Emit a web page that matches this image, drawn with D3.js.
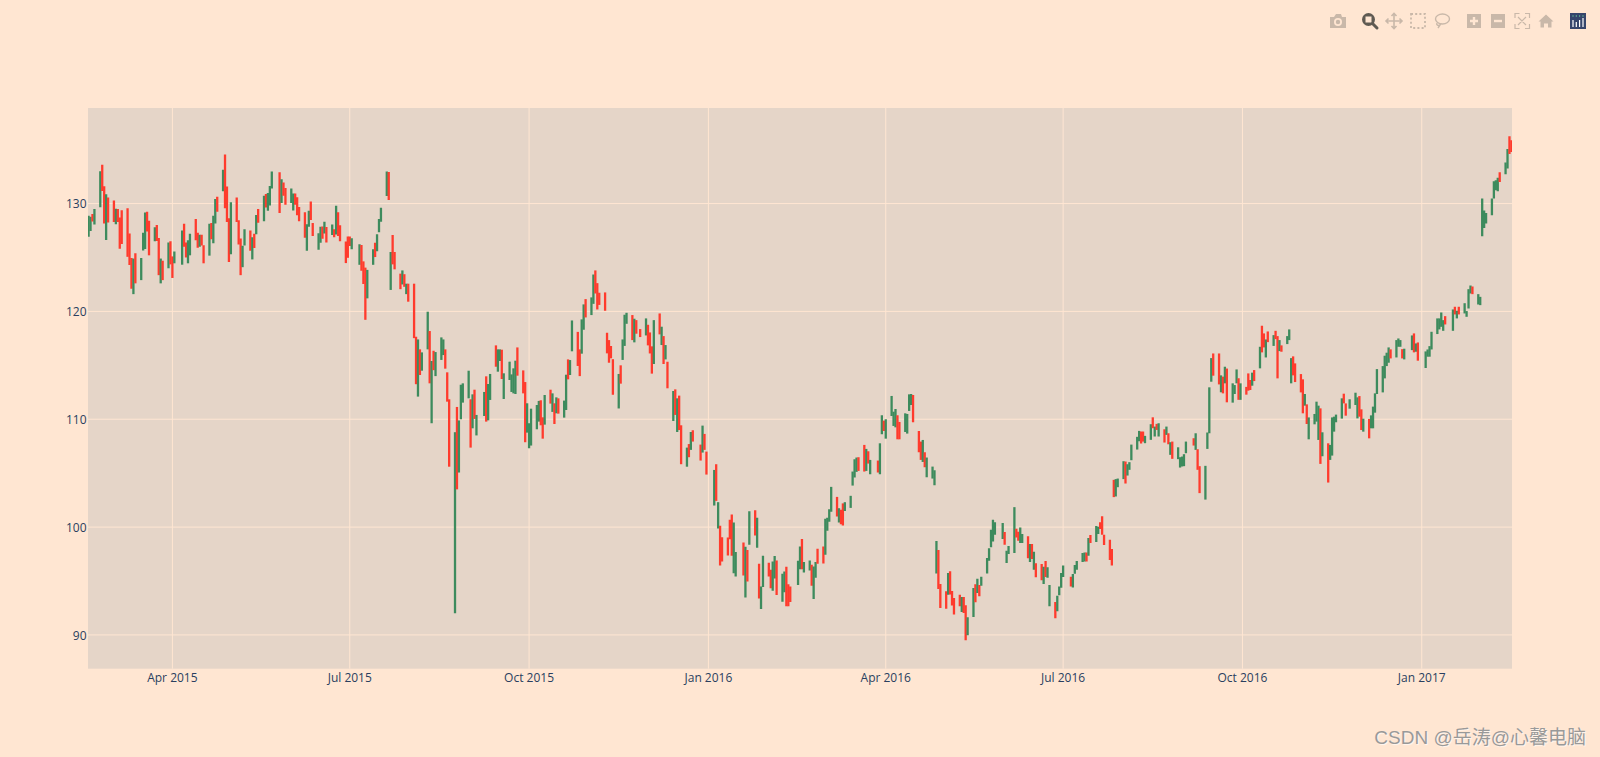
<!DOCTYPE html>
<html>
<head>
<meta charset="utf-8">
<script src="https://cdn.jsdelivr.net/npm/d3@7"></script>
<style>
  html, body { margin: 0; padding: 0; background: #ffe6d2; overflow: hidden; }
  svg { display: block; }
</style>
</head>
<body>
<svg id="chart"></svg>
<script>
// one row per month in every array, so the rows line up
const dates = [
  '2015-02-17','2015-02-18','2015-02-19','2015-02-20','2015-02-23','2015-02-24','2015-02-25','2015-02-26','2015-02-27',
  '2015-03-02','2015-03-03','2015-03-04','2015-03-05','2015-03-06','2015-03-09','2015-03-10','2015-03-11','2015-03-12','2015-03-13','2015-03-16','2015-03-17','2015-03-18','2015-03-19','2015-03-20','2015-03-23','2015-03-24','2015-03-25','2015-03-26','2015-03-27','2015-03-30','2015-03-31',
  '2015-04-01','2015-04-02','2015-04-06','2015-04-07','2015-04-08','2015-04-09','2015-04-10','2015-04-13','2015-04-14','2015-04-15','2015-04-16','2015-04-17','2015-04-20','2015-04-21','2015-04-22','2015-04-23','2015-04-24','2015-04-27','2015-04-28','2015-04-29','2015-04-30',
  '2015-05-01','2015-05-04','2015-05-05','2015-05-06','2015-05-07','2015-05-08','2015-05-11','2015-05-12','2015-05-13','2015-05-14','2015-05-15','2015-05-18','2015-05-19','2015-05-20','2015-05-21','2015-05-22','2015-05-26','2015-05-27','2015-05-28','2015-05-29',
  '2015-06-01','2015-06-02','2015-06-03','2015-06-04','2015-06-05','2015-06-08','2015-06-09','2015-06-10','2015-06-11','2015-06-12','2015-06-15','2015-06-16','2015-06-17','2015-06-18','2015-06-19','2015-06-22','2015-06-23','2015-06-24','2015-06-25','2015-06-26','2015-06-29','2015-06-30',
  '2015-07-01','2015-07-02','2015-07-06','2015-07-07','2015-07-08','2015-07-09','2015-07-10','2015-07-13','2015-07-14','2015-07-15','2015-07-16','2015-07-17','2015-07-20','2015-07-21','2015-07-22','2015-07-23','2015-07-24','2015-07-27','2015-07-28','2015-07-29','2015-07-30','2015-07-31',
  '2015-08-03','2015-08-04','2015-08-05','2015-08-06','2015-08-07','2015-08-10','2015-08-11','2015-08-12','2015-08-13','2015-08-14','2015-08-17','2015-08-18','2015-08-19','2015-08-20','2015-08-21','2015-08-24','2015-08-25','2015-08-26','2015-08-27','2015-08-28','2015-08-31',
  '2015-09-01','2015-09-02','2015-09-03','2015-09-04','2015-09-08','2015-09-09','2015-09-10','2015-09-11','2015-09-14','2015-09-15','2015-09-16','2015-09-17','2015-09-18','2015-09-21','2015-09-22','2015-09-23','2015-09-24','2015-09-25','2015-09-28','2015-09-29','2015-09-30',
  '2015-10-01','2015-10-02','2015-10-05','2015-10-06','2015-10-07','2015-10-08','2015-10-09','2015-10-12','2015-10-13','2015-10-14','2015-10-15','2015-10-16','2015-10-19','2015-10-20','2015-10-21','2015-10-22','2015-10-23','2015-10-26','2015-10-27','2015-10-28','2015-10-29','2015-10-30',
  '2015-11-02','2015-11-03','2015-11-04','2015-11-05','2015-11-06','2015-11-09','2015-11-10','2015-11-11','2015-11-12','2015-11-13','2015-11-16','2015-11-17','2015-11-18','2015-11-19','2015-11-20','2015-11-23','2015-11-24','2015-11-25','2015-11-27','2015-11-30',
  '2015-12-01','2015-12-02','2015-12-03','2015-12-04','2015-12-07','2015-12-08','2015-12-09','2015-12-10','2015-12-11','2015-12-14','2015-12-15','2015-12-16','2015-12-17','2015-12-18','2015-12-21','2015-12-22','2015-12-23','2015-12-24','2015-12-28','2015-12-29','2015-12-30','2015-12-31',
  '2016-01-04','2016-01-05','2016-01-06','2016-01-07','2016-01-08','2016-01-11','2016-01-12','2016-01-13','2016-01-14','2016-01-15','2016-01-19','2016-01-20','2016-01-21','2016-01-22','2016-01-25','2016-01-26','2016-01-27','2016-01-28','2016-01-29',
  '2016-02-01','2016-02-02','2016-02-03','2016-02-04','2016-02-05','2016-02-08','2016-02-09','2016-02-10','2016-02-11','2016-02-12','2016-02-16','2016-02-17','2016-02-18','2016-02-19','2016-02-22','2016-02-23','2016-02-24','2016-02-25','2016-02-26','2016-02-29',
  '2016-03-01','2016-03-02','2016-03-03','2016-03-04','2016-03-07','2016-03-08','2016-03-09','2016-03-10','2016-03-11','2016-03-14','2016-03-15','2016-03-16','2016-03-17','2016-03-18','2016-03-21','2016-03-22','2016-03-23','2016-03-24','2016-03-28','2016-03-29','2016-03-30','2016-03-31',
  '2016-04-01','2016-04-04','2016-04-05','2016-04-06','2016-04-07','2016-04-08','2016-04-11','2016-04-12','2016-04-13','2016-04-14','2016-04-15','2016-04-18','2016-04-19','2016-04-20','2016-04-21','2016-04-22','2016-04-25','2016-04-26','2016-04-27','2016-04-28','2016-04-29',
  '2016-05-02','2016-05-03','2016-05-04','2016-05-05','2016-05-06','2016-05-09','2016-05-10','2016-05-11','2016-05-12','2016-05-13','2016-05-16','2016-05-17','2016-05-18','2016-05-19','2016-05-20','2016-05-23','2016-05-24','2016-05-25','2016-05-26','2016-05-27','2016-05-31',
  '2016-06-01','2016-06-02','2016-06-03','2016-06-06','2016-06-07','2016-06-08','2016-06-09','2016-06-10','2016-06-13','2016-06-14','2016-06-15','2016-06-16','2016-06-17','2016-06-20','2016-06-21','2016-06-22','2016-06-23','2016-06-24','2016-06-27','2016-06-28','2016-06-29','2016-06-30',
  '2016-07-01','2016-07-05','2016-07-06','2016-07-07','2016-07-08','2016-07-11','2016-07-12','2016-07-13','2016-07-14','2016-07-15','2016-07-18','2016-07-19','2016-07-20','2016-07-21','2016-07-22','2016-07-25','2016-07-26','2016-07-27','2016-07-28','2016-07-29',
  '2016-08-01','2016-08-02','2016-08-03','2016-08-04','2016-08-05','2016-08-08','2016-08-09','2016-08-10','2016-08-11','2016-08-12','2016-08-15','2016-08-16','2016-08-17','2016-08-18','2016-08-19','2016-08-22','2016-08-23','2016-08-24','2016-08-25','2016-08-26','2016-08-29','2016-08-30','2016-08-31',
  '2016-09-01','2016-09-02','2016-09-06','2016-09-07','2016-09-08','2016-09-09','2016-09-12','2016-09-13','2016-09-14','2016-09-15','2016-09-16','2016-09-19','2016-09-20','2016-09-21','2016-09-22','2016-09-23','2016-09-26','2016-09-27','2016-09-28','2016-09-29','2016-09-30',
  '2016-10-03','2016-10-04','2016-10-05','2016-10-06','2016-10-07','2016-10-10','2016-10-11','2016-10-12','2016-10-13','2016-10-14','2016-10-17','2016-10-18','2016-10-19','2016-10-20','2016-10-21','2016-10-24','2016-10-25','2016-10-26','2016-10-27','2016-10-28','2016-10-31',
  '2016-11-01','2016-11-02','2016-11-03','2016-11-04','2016-11-07','2016-11-08','2016-11-09','2016-11-10','2016-11-11','2016-11-14','2016-11-15','2016-11-16','2016-11-17','2016-11-18','2016-11-21','2016-11-22','2016-11-23','2016-11-25','2016-11-28','2016-11-29','2016-11-30',
  '2016-12-01','2016-12-02','2016-12-05','2016-12-06','2016-12-07','2016-12-08','2016-12-09','2016-12-12','2016-12-13','2016-12-14','2016-12-15','2016-12-16','2016-12-19','2016-12-20','2016-12-21','2016-12-22','2016-12-23','2016-12-27','2016-12-28','2016-12-29','2016-12-30',
  '2017-01-03','2017-01-04','2017-01-05','2017-01-06','2017-01-09','2017-01-10','2017-01-11','2017-01-12','2017-01-13','2017-01-17','2017-01-18','2017-01-19','2017-01-20','2017-01-23','2017-01-24','2017-01-25','2017-01-26','2017-01-27','2017-01-30','2017-01-31',
  '2017-02-01','2017-02-02','2017-02-03','2017-02-06','2017-02-07','2017-02-08','2017-02-09','2017-02-10','2017-02-13','2017-02-14','2017-02-15','2017-02-16'
];

const highs = [
  128.88,128.78,129.03,129.5,133,133.6,131.6,130.87,130.57,
  130.28,129.52,129.5,128.7,129.37,129.57,127.22,124.95,124.9,125.4,124.95,127.3,129.16,129.25,128.4,127.8,128,126.8,124.9,124.7,126.4,126.5,
  125.1,125.56,127.5,128.12,126.4,126.6,127.2,128.57,127.3,127.1,127.1,126.14,128.12,128.2,128.87,130.42,130.63,133.13,134.54,131.59,128.64,
  130.13,130.57,128.45,126.75,126.08,127.62,127.5,126.88,127.19,128.95,129.49,130.72,130.88,130.98,131.63,132.97,132.91,132.26,131.95,131.44,
  131.39,130.94,130.94,130.58,129.69,129.2,128.08,129.34,130.18,128.2,127.24,127.85,127.88,128.31,127.82,128.06,127.61,129.8,129.2,127.99,126.47,126.94,
  126.94,126.78,126.23,126.15,124.64,124.06,123.85,125.76,126.37,127.15,128.57,129.62,132.97,132.92,125.5,127.09,125.5,123.5,123.8,123.45,122.57,122.57,
  122.57,117.65,117.4,116.48,116.2,119.97,118.18,115.4,116.35,116.23,117.59,117.4,116.48,114.35,111.85,108.8,111.14,109.89,113.2,113.33,114.5,
  111.85,112.31,112.74,110.4,112.53,113.98,113.27,114.2,116.85,116.48,116.48,116.45,114.26,115.34,114.16,114.72,115.43,116.66,114.53,113.45,111.48,
  109.63,110.98,111.32,111.7,111.76,110.18,112.25,112.74,112.4,111.48,112.03,111.94,111.73,114.13,115.55,115.49,119.16,118.1,116.48,119.26,120.65,121.14,
  121.3,123.42,123.8,122.62,121.73,121.76,118.02,117.34,116.79,115.57,114.2,115,117.4,119.69,119.87,119.66,119.32,119.19,118.36,119.35,
  118.76,118.05,116.76,119.19,119.81,118.58,117.71,116.88,115.33,112.62,112.77,111.94,112.19,109.44,107.37,107.7,108.82,108.98,107.65,109.41,108.64,107,
  105.3,105.83,102.31,100.12,99.07,99.04,100.67,101.17,100.43,97.68,98.57,98.17,97.87,101.47,101.57,100.86,96.6,94.5,97.34,
  96.69,96.04,96.82,97.31,96.91,95.67,95.89,96.32,94.69,94.5,96.88,98.2,98.9,96.76,96.91,96.5,96.35,96.76,97.99,98.2,
  100.77,100.86,101.66,103.73,102.8,101.75,101.6,102.2,102.31,102.9,105.15,106.29,106.45,106.48,107.62,107.25,107.03,106.23,106.17,107.77,110.37,109.87,
  110,112.16,110.7,110.95,110.37,109.75,110.55,110.49,112.31,112.34,112.25,108.91,107.93,108.08,106.94,106.45,105.61,105.27,98.7,97.87,94.72,
  94.04,95.74,95.9,94.07,93.43,93.73,93.52,93.52,92.75,91.64,94.35,94.69,95.2,94.63,95.4,97.13,98.05,99.75,100.68,100.46,100.37,
  99.54,97.8,98.24,101.85,99.85,99.57,99.97,99.35,99.14,98.43,98.43,97.72,96.64,96.57,96.33,96.85,96.27,94.63,93.06,93.64,94.5,95.74,
  96.45,95.4,95.66,96.48,96.85,97.6,97.65,97.65,98.98,99.26,100.1,100.03,100.46,101,99.29,98.83,97.96,104.38,104.45,104.5,
  106.11,106.08,105.83,106.02,107.65,108.37,108.92,108.86,108.86,108.46,109.54,110.18,109.32,109.57,109.63,109.07,109.32,108.7,107.87,107.93,107.4,106.48,106.54,
  106.76,107.93,108.24,108.7,107.22,105.65,105.68,108.77,112.96,115.67,116.1,116.1,114.07,113.95,114.87,114.7,113.33,113.17,114.62,113.8,113.33,
  113,114.25,113.64,114.32,114.56,116.72,118.67,117.96,117.4,118.14,117.8,118.2,117.71,117.34,116.85,117.71,118.33,115.67,115.83,115.18,114.19,
  113.7,112.34,111.38,110.17,110.49,111.63,111.26,111.01,108.79,107.77,107.62,110.17,110.24,110.43,111.94,112.37,111.47,111.85,112.46,112.03,112.15,
  110.92,110.05,110.03,110.36,111.17,112.4,114.65,114.93,115.89,116.17,116.66,116.48,117.34,117.49,117.34,116.5,116.54,117.77,117.96,117.03,117.12,
  116.29,116.47,116.78,118.11,119.35,119.35,119.9,119.19,119.56,120.18,120.43,120.06,120.43,120.76,120.03,122.06,122.4,122.31,121.6,121.35,
  130.46,129.35,129.13,130.46,132.07,132.16,132.4,132.9,133.8,135.06,136.23,135.86
];

const lows = [
  126.92,127.45,128.33,128.05,129.66,131.17,128.15,126.61,128.24,
  128.3,128.09,128.3,125.8,126.26,125.06,124.3,122.1,121.6,122.6,122.9,125.65,125.78,127.4,125.2,126.5,126.52,123.36,122.6,122.9,124,124.36,
  123.1,124.46,124.33,126,125,124.46,125.2,126.6,125.9,126,126.1,124.46,125.17,126.7,126.32,128.14,129.23,131.15,129.57,128.3,124.58,
  125.3,128.3,126.2,123.36,124.1,126.1,125.63,124.82,125.87,127.16,128.21,128.36,129.64,129.34,129.83,131.4,129.12,130.05,130.72,129.9,
  130.05,129.35,129.9,128.91,128.36,126.83,125.62,127.85,128.48,127,125.71,126.37,126.74,127.22,126.4,127.08,126.88,127.12,127,126.51,124.48,124.97,
  126.06,125.77,124.32,123.77,122.54,119.22,121.21,124.32,125.04,125.58,127.35,128.31,130.7,130.32,121.99,124.36,123.9,122.06,122.5,122.28,121.6,120.9,
  117.52,113.25,112.1,114.1,114.5,116.48,113.33,109.63,114.55,114,115.5,115.95,114.69,111.63,105.6,92,103.5,105.06,110,111.54,111.94,
  107.37,109.16,110.03,108.5,110.3,109.78,109.9,111.79,114.87,114.41,115.4,113.73,111.88,113.64,112.53,112.4,112.34,114.04,112.4,107.87,108.76,
  107.31,107.56,109.07,109.78,109.44,108.2,109.5,111.45,110.68,109.56,110.55,110.52,110.15,110.86,113.7,114.1,116.3,114.94,114,116.08,118.3,119.44,
  119.66,120.7,121.66,120.18,120.6,120.06,116.11,115.24,115.65,112.27,111,113.3,115.5,116.8,118.85,117.34,117.13,117.93,117.62,117.77,
  116.85,116.1,114.23,115.12,117.87,116.88,115.12,115.55,112.87,109.84,110.4,108.82,109,105.83,105.6,106.48,107.16,107.93,106.17,106.91,107.16,104.87,
  102,102.43,99.87,96.45,96.82,97.37,98.88,97.34,95.73,95.43,95.52,93.48,94.96,98.36,99.22,98.08,93.39,92.4,94.44,
  95.43,94.32,94.1,95.24,93.7,93.08,93.95,92.65,92.65,93.05,94.62,96.1,96.1,95.8,95.98,94.56,93.33,95.3,96.6,96.63,
  97.43,99.66,100.49,101.42,100.98,100.43,100.27,100.15,101.5,101.78,103.85,104.6,105.12,105.21,105.15,105.21,105.89,104.9,105.06,104.9,108.61,108.91,
  108.2,110.3,109.38,109.25,108.14,108.14,108.82,108.67,110.77,111.32,109.72,106.94,106.23,106.04,105.55,104.62,104.5,103.88,95.7,94.26,92.5,
  92.44,93.73,93.74,92.72,91.9,92.65,92.13,92.04,89.5,89.97,91.67,93.03,93.89,93.58,94.57,95.7,96.88,98.12,98.67,99.29,98.89,
  98.36,96.67,97.5,97.59,99.04,98.73,98.52,98.52,97.1,96.76,97.04,96.05,95.34,95.06,94.72,95.37,95.3,92.65,91.54,92.19,93.67,94.38,
  95.37,94.5,94.41,95.68,96.05,96.76,96.82,96.82,97.35,98.52,98.61,99.35,99.82,99.29,98.33,96.94,96.45,102.78,102.84,103.7,
  104.45,104.04,104.78,105.31,106.2,107.19,107.96,107.75,107.93,107.78,108.09,109.17,108.4,109.01,108.4,107.84,108.55,107.68,106.7,106.33,106.3,105.52,105.62,
  105.65,106.85,107.56,107.16,105.31,103.15,102.55,107.25,108.7,113.48,114.04,113.23,112.5,112.4,113.33,111.57,111.54,112.34,113.33,111.8,111.8,
  112.28,112.65,112.71,113.11,113.54,114.72,116.2,116.66,115.73,117.15,116.8,117.43,113.79,116.32,116.26,116.97,117.34,113.33,114.07,113.45,112.49,
  110.55,111.26,109.56,108.14,109.53,109.78,108.08,105.86,106.57,104.13,106.23,106.63,108.85,109.72,110.06,111.47,110.33,110.98,111.32,110.08,110.24,
  109,108.85,108.23,109.16,109.16,110.61,112.34,112.49,113.79,114.93,115.24,115.64,115.73,116.72,116.72,115.64,115.55,116.41,116.2,116.26,115.43,
  114.75,115.8,115.8,116.47,117.9,118.33,118.57,118.2,118.79,118.2,119.72,119.35,119.72,119.81,119.5,120.27,121.66,121.6,120.64,120.58,
  126.97,127.74,128.14,128.92,130.46,131.23,131.14,132,132.71,133.24,134.6,134.78
];

// 1 = closed higher than it opened (green), 0 = closed lower (red)
const rising = [
  1,1,0,1,1,0,0,1,0,
  0,1,0,0,0,0,0,0,1,0,1,1,1,0,0,1,0,0,1,0,1,0,
  0,1,1,0,0,1,1,0,0,1,0,0,1,0,1,1,0,1,0,0,0,
  1,0,0,0,1,1,0,1,0,1,0,1,0,1,1,1,0,1,0,0,
  1,1,0,0,0,0,1,1,0,0,1,1,0,1,0,1,0,1,0,0,0,0,
  0,1,1,0,0,0,1,1,0,1,1,1,1,0,1,0,0,0,1,0,1,0,
  0,0,1,0,1,1,0,1,0,1,1,1,0,0,0,1,0,1,1,1,1,
  0,1,0,1,1,0,1,1,0,1,1,0,1,1,1,1,1,0,0,0,1,
  1,1,1,1,0,0,1,0,1,0,1,0,1,1,0,1,1,0,0,1,1,0,
  1,1,0,0,0,0,0,0,0,0,1,0,1,1,1,0,1,0,0,1,
  0,0,0,1,0,1,0,1,0,1,0,1,0,0,1,0,1,0,0,1,0,0,
  1,0,1,0,0,0,0,0,1,1,0,1,0,1,0,1,0,1,1,
  0,0,1,1,0,1,1,0,0,0,1,1,0,1,1,0,1,1,0,0,
  1,1,1,1,0,1,0,0,1,1,1,1,1,0,0,1,0,1,0,1,1,0,
  1,1,1,1,0,0,1,1,1,1,0,0,0,1,0,1,1,1,1,0,0,
  0,1,0,0,0,0,1,0,0,1,1,0,1,0,1,1,1,1,1,1,1,
  0,1,1,1,0,0,1,1,0,1,0,1,0,0,1,0,1,1,0,1,1,1,
  1,0,1,1,1,1,1,0,1,0,1,1,0,0,0,0,0,0,1,1,
  1,0,1,1,1,1,1,0,0,1,1,0,1,0,1,0,1,0,1,0,1,1,1,
  1,1,0,1,0,0,1,1,1,1,0,0,1,0,1,0,1,1,1,0,1,
  0,0,0,1,0,1,0,0,1,0,1,0,0,1,0,1,1,1,0,0,0,
  0,1,0,1,1,1,1,0,1,0,1,1,1,1,1,0,0,1,1,1,0,
  0,1,0,1,1,1,1,1,1,1,1,0,1,1,1,0,1,1,0,1,0,
  1,1,1,1,1,1,1,1,0,1,0,1,0,1,1,1,1,0,1,1,
  1,1,1,1,1,1,1,0,1,1,0,0
];

const xTickDates = ['2015-04-01','2015-07-01','2015-10-01','2016-01-01','2016-04-01','2016-07-01','2016-10-01','2017-01-01'];
const xTickLabels = ['Apr 2015','Jul 2015','Oct 2015','Jan 2016','Apr 2016','Jul 2016','Oct 2016','Jan 2017'];
const yTicks = [90, 100, 110, 120, 130];

const width = 1600;
const height = 757;
const margins = { left: 88, right: 88, top: 108, bottom: 88.3 };
const innerWidth = width - margins.left - margins.right;
const innerHeight = height - margins.top - margins.bottom;

const paper = '#ffe6d2';
const plotBg = '#e5d5c8';
const grid = '#ffe6d2';
const tickColor = '#2a3f5f';
const upColor = '#3d8b5d';
const downColor = '#ff3b2d';
const iconColor = '#c9b8a9';
const iconActive = '#5f5a52';

const parseDate = d3.utcParse('%Y-%m-%d');

const svg = d3.select('#chart')
    .attr('width', width)
    .attr('height', height);

svg.append('defs')
  .append('clipPath')
    .attr('id', 'plot-clip')
  .append('rect')
    .attr('width', innerWidth)
    .attr('height', innerHeight);

const xScale = d3.scaleUtc()
    .domain([new Date(Date.UTC(2015, 1, 16, 16, 48)), new Date(Date.UTC(2017, 1, 16, 7, 12))])
    .range([0, innerWidth]);

const yScale = d3.scaleLinear()
    .domain([86.87, 138.86])
    .range([innerHeight, 0]);

const chart = svg.append('g')
    .attr('transform', `translate(${margins.left}, ${margins.top})`);

chart.append('rect')
    .attr('width', innerWidth)
    .attr('height', innerHeight)
    .attr('fill', plotBg);

const xAxis = d3.axisBottom(xScale)
    .tickValues(xTickDates.map(parseDate))
    .tickFormat((d, i) => xTickLabels[i])
    .tickSize(-innerHeight)
    .tickPadding(4.5)
    .offset(0);

const yAxis = d3.axisLeft(yScale)
    .tickValues(yTicks)
    .tickSize(-innerWidth)
    .tickPadding(1.5)
    .offset(0);

const xAxisG = chart.append('g')
    .attr('transform', `translate(0, ${innerHeight})`)
    .call(xAxis);

const yAxisG = chart.append('g')
    .call(yAxis);

for (const axisG of [xAxisG, yAxisG]) {
  axisG.select('.domain').remove();
  axisG.selectAll('line').attr('stroke', grid).attr('stroke-width', 1);
  axisG.selectAll('text')
      .attr('fill', tickColor)
      .style('font-family', '"Open Sans", sans-serif')
      .style('font-size', '12px');
}

yAxisG.selectAll('text').attr('dy', '0.4em');

const bars = dates.map((d, i) => ({ date: parseDate(d), high: highs[i], low: lows[i], up: rising[i] === 1 }));

chart.append('g')
    .attr('clip-path', 'url(#plot-clip)')
  .selectAll('line')
  .data(bars)
  .join('line')
    .attr('x1', d => xScale(d.date))
    .attr('x2', d => xScale(d.date))
    .attr('y1', d => yScale(d.high))
    .attr('y2', d => yScale(d.low))
    .attr('stroke', d => d.up ? upColor : downColor)
    .attr('stroke-width', 2.3);

// modebar
const modebar = svg.append('g');

const camera = modebar.append('g').attr('fill', iconColor);
camera.append('path').attr('d', 'M1330 17h4l2-3h5l1 3h4v11h-16z');
camera.append('circle').attr('cx', 1338).attr('cy', 22).attr('r', 4).attr('fill', paper);
camera.append('circle').attr('cx', 1338).attr('cy', 22).attr('r', 2.2);

modebar.append('circle')
    .attr('cx', 1368.5).attr('cy', 19.5).attr('r', 6.5)
    .attr('fill', iconActive);
modebar.append('rect')
    .attr('x', 1365.5).attr('y', 16.5).attr('width', 6).attr('height', 6)
    .attr('fill', paper);
modebar.append('path')
    .attr('d', 'M1372.5 23.5L1377 28')
    .attr('stroke', iconActive).attr('stroke-width', 3).attr('stroke-linecap', 'round');

modebar.append('path')
    .attr('d', 'M1394 14v14M1387 21h14M1391.500 16l2.500-2.500 2.500 2.500M1391.500 26l2.500 2.500 2.500-2.500M1388.500 18.500l-2.500 2.500 2.500 2.500M1399.500 18.500l2.500 2.500-2.500 2.500')
    .attr('fill', 'none').attr('stroke', iconColor).attr('stroke-width', 1.6);

modebar.append('rect')
    .attr('x', 1411).attr('y', 14).attr('width', 14).attr('height', 14)
    .attr('fill', 'none').attr('stroke', iconColor).attr('stroke-width', 1.8).attr('stroke-dasharray', '2 2.2');

modebar.append('ellipse')
    .attr('cx', 1442.500).attr('cy', 19).attr('rx', 7).attr('ry', 5)
    .attr('fill', 'none').attr('stroke', iconColor).attr('stroke-width', 1.4);
modebar.append('path')
    .attr('d', 'M1437 23c-1 2 1 3 3 2l-2 3')
    .attr('fill', 'none').attr('stroke', iconColor).attr('stroke-width', 1.4);

modebar.append('rect').attr('x', 1467).attr('y', 14).attr('width', 14).attr('height', 14).attr('fill', iconColor);
modebar.append('path').attr('d', 'M1474 17v8M1470 21h8').attr('stroke', paper).attr('stroke-width', 2.4);
modebar.append('rect').attr('x', 1491).attr('y', 14).attr('width', 14).attr('height', 14).attr('fill', iconColor);
modebar.append('path').attr('d', 'M1494 21h8').attr('stroke', paper).attr('stroke-width', 2.4);

modebar.append('path')
    .attr('d', 'M1515 18v-4.500h4.500M1525 13.500h4.500v4.500M1529.500 24v4.500h-4.500M1519.500 28.500h-4.500v-4.500M1518 17l8 8M1526 17l-8 8')
    .attr('fill', 'none').attr('stroke', iconColor).attr('stroke-width', 1.2);

modebar.append('path')
    .attr('d', 'M1546 14.500l7.500 7h-2v6h-3.500v-4h-4v4h-3.500v-6h-2z')
    .attr('fill', iconColor);

modebar.append('rect').attr('x', 1570).attr('y', 13).attr('width', 16).attr('height', 16).attr('fill', '#36456b');
modebar.append('path')
    .attr('d', 'M1573 20v7M1576.300 22v5M1579.600 20v7M1583 18v9')
    .attr('stroke', '#ffffff').attr('stroke-width', 1.2);
modebar.append('path')
    .attr('d', 'M1573 16h.01M1576.300 16h.01M1579.600 16h.01M1583 16h.01')
    .attr('stroke', '#69c89a').attr('stroke-width', 1.4).attr('stroke-linecap', 'round');

svg.append('text')
    .attr('x', 1586)
    .attr('y', 744)
    .attr('text-anchor', 'end')
    .attr('fill', '#999999')
    .style('font-family', '"Liberation Sans", "Noto Sans CJK SC", sans-serif')
    .style('font-size', '19px')
    .style('text-shadow', '1px 1px 1px rgba(255,255,255,0.7)')
    .text('CSDN @岳涛@心馨电脑');
</script>
</body>
</html>
